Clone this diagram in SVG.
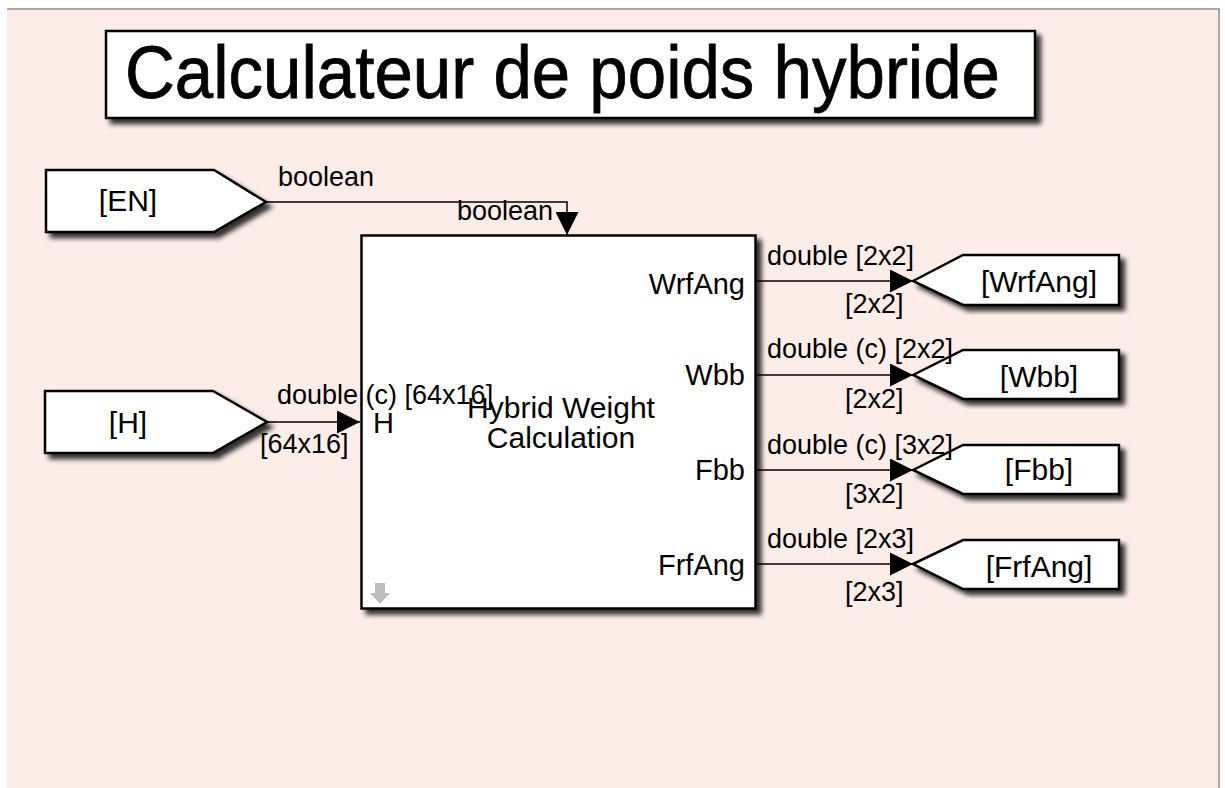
<svg xmlns="http://www.w3.org/2000/svg" width="1225" height="788" viewBox="0 0 1225 788">
<defs>
<style>
text{font-family:"Liberation Sans",Arial,sans-serif;fill:#000}
.blk{fill:#fff;stroke:#000;stroke-width:2.5;filter:url(#sh)}
.bt{font-size:30px;text-anchor:middle}
.pl{font-size:29px;text-anchor:end}
.sl{font-size:27px}
.ln{fill:none;stroke:#000;stroke-width:1.5}
</style>
<filter id="sh" x="-10%" y="-10%" width="130%" height="130%">
<feGaussianBlur in="SourceAlpha" stdDeviation="2.5"/>
<feOffset dx="5" dy="5" result="o"/>
<feComponentTransfer><feFuncA type="linear" slope="0.8"/></feComponentTransfer>
<feMerge><feMergeNode/><feMergeNode in="SourceGraphic"/></feMerge>
</filter>
<marker id="ar" viewBox="0 0 10 10" refX="10" refY="5" markerWidth="23" markerHeight="23" markerUnits="userSpaceOnUse" orient="auto">
<path d="M0,0 L10,5 L0,10 Z" fill="#000"/>
</marker>
</defs>
<rect width="1225" height="788" fill="#fff"/>
<rect x="7" y="8" width="1212" height="780" fill="#fcede8"/>
<line x1="7" y1="9" x2="1220" y2="9" stroke="#a9a6a5" stroke-width="2"/>
<line x1="1219" y1="8" x2="1219" y2="788" stroke="#a9a6a5" stroke-width="2"/>

<g id="title">
<rect class="blk" x="106" y="31" width="929" height="87"/>
<text x="125" y="98" font-size="74" stroke="#000" stroke-width="0.8" textLength="875" lengthAdjust="spacingAndGlyphs">Calculateur de poids hybride</text>
</g>

<g id="from-EN">
<polygon class="blk" points="46,170 214,170 266,202 214,232 46,232"/>
<text class="bt" x="128" y="211">[EN]</text>
</g>

<g id="from-H">
<polygon class="blk" points="45,391 213,391 267,422 213,453 45,453"/>
<text class="bt" x="128" y="433">[H]</text>
</g>

<g id="hybrid-weight-calculation">
<rect class="blk" x="361.5" y="235.5" width="394" height="373" stroke-width="3"/>
<text class="bt" x="561" y="418">Hybrid Weight</text>
<text class="bt" x="561" y="448">Calculation</text>
<text x="373" y="433" font-size="29">H</text>
<text class="pl" x="745" y="294">WrfAng</text>
<text class="pl" x="745" y="385">Wbb</text>
<text class="pl" x="745" y="480">Fbb</text>
<text class="pl" x="745" y="575">FrfAng</text>
<path d="M375,583 h10 v10 h5 l-10,11 l-10,-11 h5 Z" fill="#bdbdbd"/>
</g>

<g id="goto-WrfAng">
<polygon class="blk" points="913,281 963,255 1119,255 1119,305 963,305"/>
<text class="bt" x="1039" y="292">[WrfAng]</text>
</g>
<g id="goto-Wbb">
<polygon class="blk" points="913,375 963,350 1119,350 1119,399 963,399"/>
<text class="bt" x="1039" y="387">[Wbb]</text>
</g>
<g id="goto-Fbb">
<polygon class="blk" points="913,470 963,445 1119,445 1119,494 963,494"/>
<text class="bt" x="1039" y="480">[Fbb]</text>
</g>
<g id="goto-FrfAng">
<polygon class="blk" points="913,564 963,540 1119,540 1119,589 963,589"/>
<text class="bt" x="1039" y="577">[FrfAng]</text>
</g>

<g id="connectors">
<path class="ln" d="M266,202 H567 V235" marker-end="url(#ar)"/>
<path class="ln" d="M267,422 H360" marker-end="url(#ar)"/>
<path class="ln" d="M757,281 H913" marker-end="url(#ar)"/>
<path class="ln" d="M757,375 H913" marker-end="url(#ar)"/>
<path class="ln" d="M757,470 H913" marker-end="url(#ar)"/>
<path class="ln" d="M757,564 H913" marker-end="url(#ar)"/>
<text class="sl" x="278" y="186">boolean</text>
<text class="sl" x="457" y="220">boolean</text>
<text class="sl" x="277" y="404">double (c) [64x16]</text>
<text class="sl" x="260" y="453">[64x16]</text>
<text class="sl" x="767" y="265">double [2x2]</text>
<text class="sl" x="845" y="313">[2x2]</text>
<text class="sl" x="767" y="358">double (c) [2x2]</text>
<text class="sl" x="845" y="408">[2x2]</text>
<text class="sl" x="767" y="454">double (c) [3x2]</text>
<text class="sl" x="845" y="503">[3x2]</text>
<text class="sl" x="767" y="548">double [2x3]</text>
<text class="sl" x="845" y="601">[2x3]</text>
</g>
</svg>
